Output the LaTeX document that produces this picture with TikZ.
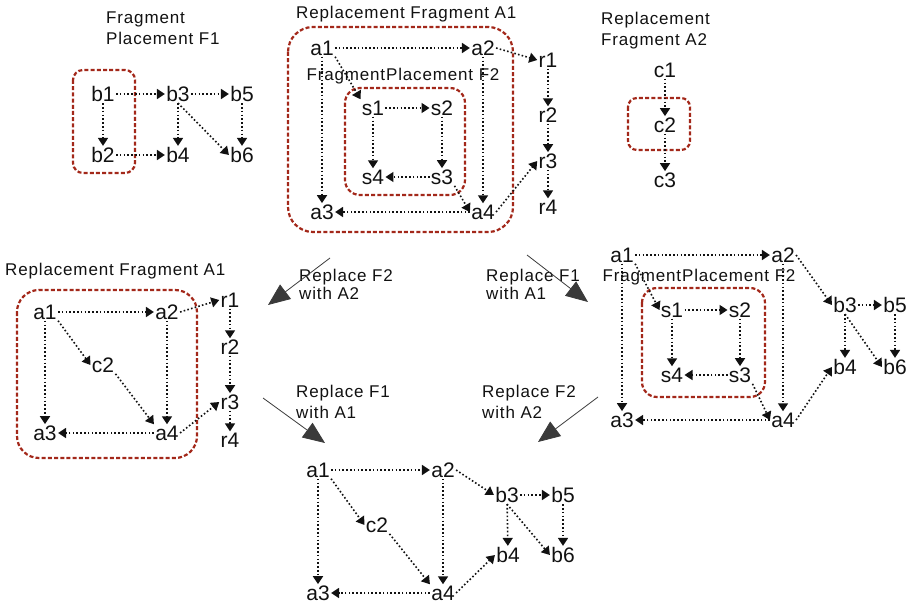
\documentclass[tikz,border=0pt]{standalone}
\usepackage{fontspec}
\setmainfont{Liberation Sans}
\newfontfamily\lblfont[LetterSpace=5]{Liberation Sans}
\usepackage{tikz}
\usetikzlibrary{arrows.meta}
\definecolor{BoxRed}{HTML}{A3281A}
\definecolor{Ink}{HTML}{111111}
\definecolor{ArrowGray}{HTML}{3A3A3A}
\tikzset{
  vx/.style={inner sep=1.2pt,font=\fontsize{21}{21}\selectfont,text=Ink},
  lbl/.style={anchor=west,align=left,inner sep=0pt,font=\lblfont\fontsize{17}{21}\selectfont,text=Ink},
  dep/.style={Ink,line width=1.6pt,dash pattern=on 1.6pt off 2.2pt,-{Triangle[length=8pt,width=10pt]}},
  fragbox/.style={BoxRed,line width=2.2pt,dash pattern=on 4pt off 2.2pt},
  xform/.style={ArrowGray,line width=0.8pt,-{Triangle[length=22pt,width=18pt]}}
}

\begin{document}
\begin{tikzpicture}[x=1pt,y=-1pt]
  \useasboundingbox (0,0) rectangle (912,607);

  % fragment placement F1
  \node[lbl] (tF1) at (106,28) {Fragment\\Placement F1};
  \node[vx] (fb1) at (103,94) {b1};
  \node[vx] (fb3) at (178,94) {b3};
  \node[vx] (fb5) at (242,94) {b5};
  \node[vx] (fb2) at (103,155) {b2};
  \node[vx] (fb4) at (178,155) {b4};
  \node[vx] (fb6) at (242,155) {b6};
  \draw[fragbox,rounded corners=10pt] (73,70) rectangle (135,173);
  \foreach \u/\v in {fb1/fb3,fb3/fb5,fb1/fb2,fb3/fb4,fb5/fb6,fb2/fb4}{\draw[dep] (\u) -- (\v);}
  \draw[dep] (fb3.south) -- (fb6.west);

  % replacement fragment A1 with placement F2 inside
  \node[lbl] (tA1) at (296,14) {Replacement Fragment A1};
  \node[vx] (ta1) at (322,48) {a1};
  \node[vx] (ta2) at (483,48) {a2};
  \node[vx] (ta3) at (322,212) {a3};
  \node[vx] (ta4) at (483,212) {a4};
  \node[vx] (tr1) at (548,60) {r1};
  \node[vx] (tr2) at (548,115) {r2};
  \node[vx] (tr3) at (548,161) {r3};
  \node[vx] (tr4) at (548,207) {r4};
  \node[lbl,anchor=center] (tF2) at (403,76) {FragmentPlacement F2};
  \node[vx] (ts1) at (373,108) {s1};
  \node[vx] (ts2) at (442,108) {s2};
  \node[vx] (ts3) at (442,177) {s3};
  \node[vx] (ts4) at (373,177) {s4};
  \draw[fragbox,rounded corners=25pt] (288,27) rectangle (513,232);
  \draw[fragbox,rounded corners=15pt] (345,88) rectangle (465,195);
  \foreach \u/\v in {ta1/ta2,ta1/ta3,ta2/ta4,ta4/ta3,tr1/tr2,tr2/tr3,tr3/tr4,ts1/ts2,ts1/ts4,ts2/ts3,ts3/ts4}{\draw[dep] (\u) -- (\v);}
  \draw[dep] (ta2.east) -- (tr1.west);
  \draw[dep] (ta4.east) -- (tr3.west);
  \draw[dep] (ta1.south east) -- (ts1.north west);
  \draw[dep] (ts3.south east) -- (ta4.west);

  % replacement fragment A2
  \node[lbl] (tA2) at (601,31) {Replacement\\Fragment A2};
  \node[vx] (c1) at (665,70) {c1};
  \node[vx] (c2) at (665,125) {c2};
  \node[vx] (c3) at (665,180) {c3};
  \draw[fragbox,rounded corners=9pt] (628,98) rectangle (690,150);
  \draw[dep] (c1) -- (c2);
  \draw[dep] (c2) -- (c3);

  % A1 after F2 replaced with A2
  \node[lbl] (lA1) at (5,271) {Replacement Fragment A1};
  \node[vx] (la1) at (45,312) {a1};
  \node[vx] (la2) at (167,312) {a2};
  \node[vx] (lc2) at (103,365) {c2};
  \node[vx] (la3) at (45,433) {a3};
  \node[vx] (la4) at (167,433) {a4};
  \node[vx] (lr1) at (230,300) {r1};
  \node[vx] (lr2) at (230,347) {r2};
  \node[vx] (lr3) at (230,402) {r3};
  \node[vx] (lr4) at (230,440) {r4};
  \draw[fragbox,rounded corners=22pt] (17,290) rectangle (197,458);
  \foreach \u/\v in {la1/la2,la1/la3,la2/la4,la4/la3,lr1/lr2,lr2/lr3,lr3/lr4}{\draw[dep] (\u) -- (\v);}
  \draw[dep] (la1.south east) -- (lc2.west);
  \draw[dep] (lc2.south east) -- (la4.north west);
  \draw[dep] (la2.east) -- (lr1.west);
  \draw[dep] (la4.east) -- (lr3.west);

  % F1 replaced with A1
  \node[vx] (ga1) at (622,255) {a1};
  \node[vx] (ga2) at (783,255) {a2};
  \node[vx] (ga3) at (622,420) {a3};
  \node[vx] (ga4) at (783,420) {a4};
  \node[lbl,anchor=center] (gF2) at (699,277) {FragmentPlacement F2};
  \node[vx] (gs1) at (672,310) {s1};
  \node[vx] (gs2) at (740,310) {s2};
  \node[vx] (gs3) at (740,375) {s3};
  \node[vx] (gs4) at (672,375) {s4};
  \node[vx] (gb3) at (845,305) {b3};
  \node[vx] (gb5) at (895,305) {b5};
  \node[vx] (gb4) at (845,367) {b4};
  \node[vx] (gb6) at (895,367) {b6};
  \draw[fragbox,rounded corners=15pt] (642,288) rectangle (765,397);
  \foreach \u/\v in {ga1/ga2,ga1/ga3,ga2/ga4,ga4/ga3,gs1/gs2,gs1/gs4,gs2/gs3,gs3/gs4,gb3/gb5,gb3/gb4,gb5/gb6}{\draw[dep] (\u) -- (\v);}
  \draw[dep] (ga1.south east) -- (gs1.west);
  \draw[dep] (gs3.south east) -- (ga4.west);
  \draw[dep] (ga2.east) -- (gb3.west);
  \draw[dep] (ga4.east) -- (gb4.west);
  \draw[dep] (gb3.south) -- (gb6.west);

  % both replaced
  \node[vx] (ma1) at (318,470) {a1};
  \node[vx] (ma2) at (443,470) {a2};
  \node[vx] (mc2) at (377,525) {c2};
  \node[vx] (ma3) at (318,593) {a3};
  \node[vx] (ma4) at (443,593) {a4};
  \node[vx] (mb3) at (507,495) {b3};
  \node[vx] (mb5) at (563,495) {b5};
  \node[vx] (mb4) at (508,555) {b4};
  \node[vx] (mb6) at (563,555) {b6};
  \foreach \u/\v in {ma1/ma2,ma1/ma3,ma2/ma4,ma4/ma3,mb3/mb5,mb3/mb4,mb5/mb6}{\draw[dep] (\u) -- (\v);}
  \draw[dep] (ma1.south east) -- (mc2.west);
  \draw[dep] (mc2.south east) -- (ma4.north west);
  \draw[dep] (ma2.east) -- (mb3.west);
  \draw[dep] (ma4.east) -- (mb4.west);
  \draw[dep] (mb3.south) -- (mb6.west);

  % replacement steps
  \coordinate (s1a) at (330,258); \coordinate (s1b) at (268,305);
  \coordinate (s2a) at (527,255); \coordinate (s2b) at (588,302);
  \coordinate (s3a) at (263,398); \coordinate (s3b) at (325,443);
  \coordinate (s4a) at (598,397); \coordinate (s4b) at (538,442);
  \node[lbl,font=\lblfont\fontsize{17}{18}\selectfont] (r1) at (299,284) {Replace F2\\with A2};
  \node[lbl,font=\lblfont\fontsize{17}{18}\selectfont] (r2) at (486,284) {Replace F1\\with A1};
  \node[lbl] (r3) at (296,402) {Replace F1\\with A1};
  \node[lbl] (r4) at (482,402) {Replace F2\\with A2};
  \draw[xform] (s1a) -- (s1b);
  \draw[xform] (s2a) -- (s2b);
  \draw[xform] (s3a) -- (s3b);
  \draw[xform] (s4a) -- (s4b);
\end{tikzpicture}
\end{document}
